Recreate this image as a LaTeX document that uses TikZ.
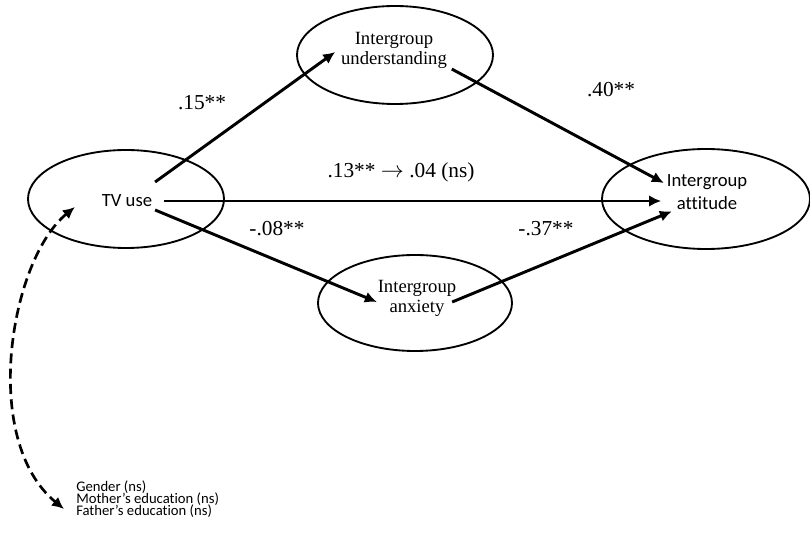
\documentclass[tikz,border=0pt]{standalone}
\usepackage{fontspec}
\setmainfont{Liberation Serif}
\setsansfont{Carlito}[Ligatures=CommonOff]
\usetikzlibrary{arrows.meta,calc}
\newcommand\covfont{\sffamily\fontsize{11}{9}\selectfont\lineskiplimit=-10pt\relax}
\tikzset{
	oval/.style={line width=1.4pt},
	effect/.style={line width=2.2pt, -{Latex[length=9pt,width=8.5pt]}},
	covline/.style={line width=2pt, dash pattern=on 7.5pt off 4pt, {Latex[length=9pt,width=8.5pt]}-{Latex[length=9pt,width=8.5pt]}},
	serlabel/.style={font=\fontsize{14}{15}\selectfont, align=center, inner sep=2pt},
	sanlabel/.style={font=\sffamily\fontsize{14}{17}\selectfont, align=center, inner sep=2pt},
	coef/.style={font=\fontsize{16}{18}\selectfont, inner sep=0pt}
}

\begin{document}
\begin{tikzpicture}[x=0.75pt, y=-0.75pt]
		%%%%% START %%%%%
		\useasboundingbox (0, 0) rectangle (810, 534);
		
		\draw[oval] (126, 199) ellipse [x radius=73.5pt, y radius=36.75pt];
		\draw[oval] (395, 55) ellipse [x radius=73.5pt, y radius=36.75pt];
		\draw[oval] (415, 303) ellipse [x radius=72.75pt, y radius=36pt];
		\draw[oval] (706, 199) ellipse [x radius=78pt, y radius=37.5pt];
		
		\node[sanlabel] (tv) at (127, 201) {TV use};
		\node[serlabel] (und) at (394, 50) {Intergroup\\understanding};
		\node[serlabel] (anx) at (417, 298) {Intergroup\\anxiety};
		\node[sanlabel] (att) at (707, 192) {Intergroup\\attitude};
		\node[font=\covfont, align=left, anchor=west, inner sep=0pt] (cov) at (76, 499) {Gender (ns)\\Mother's education (ns)\\Father's education (ns)};
		
		\draw[effect] ($(tv.north east)+(0, -10)$) -- ($(und.west)+(-3, 2)$);
		\draw[effect] ($(und.south east)+(2, -2)$) -- ($(att.west)+(0, -9)$);
		\draw[effect] ([xshift=7pt]tv.east) -- ([xshift=-2pt]tv.east -| att.west);
		\draw[effect] (tv.south east) -- ($(anx.west)+(2, 4)$);
		\draw[effect] ($(anx.east)+(-7, 4)$) -- ($(att.south west)+(8, -1)$);
		
		\draw[covline] ($(tv.south west)+(-24, -3)$) .. controls (10, 260) and (-20, 440) .. ($(cov.west)+(-12, 10)$);
		
		\node[coef] (p15) at (202, 103) {.15**};
		\node[coef] (p40) at (611, 90) {.40**};
		\node[coef] (pdir) at (401, 172) {.13** $\rightarrow$ .04 (ns)};
		\node[coef] (p08) at (277, 229) {-.08**};
		\node[coef] (p37) at (546, 229) {-.37**};
		%%%%% END %%%%%
\end{tikzpicture}
\end{document}
